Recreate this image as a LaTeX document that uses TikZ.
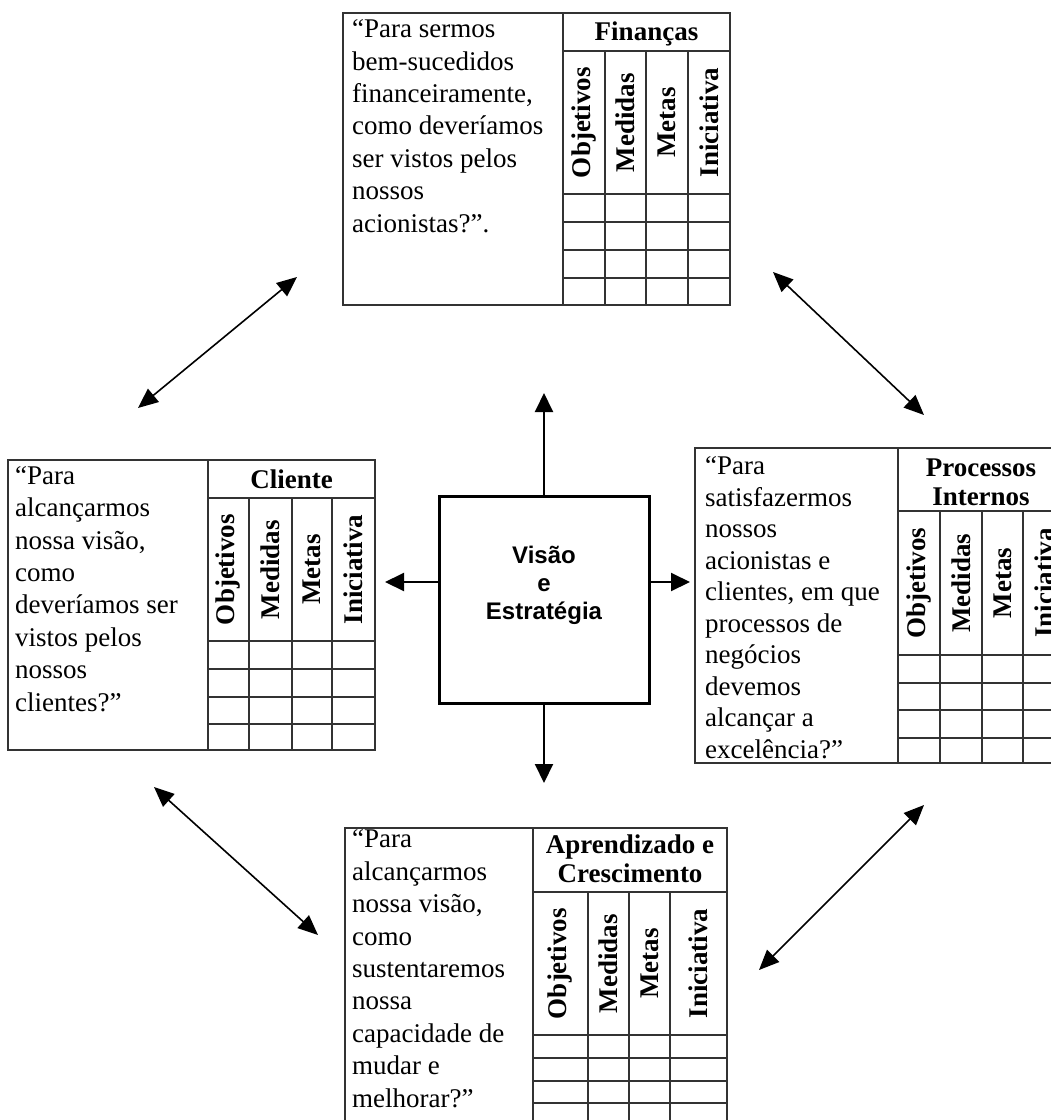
\documentclass[tikz,border=0pt]{standalone}
\usepackage{fontspec}
\setmainfont{Liberation Serif}
\newfontfamily\arialfont{Liberation Sans}
\usetikzlibrary{arrows.meta}

% multi-line nodes sit on the baseline of their last line
\tikzset{
  grid line/.style={line width=1.1pt, black!80},
  quest/.style={anchor=base west, inner sep=0pt, align=left, font=\fontsize{27}{32.4}\selectfont},
  head/.style={anchor=base, inner sep=0pt, align=center, font=\fontsize{27}{29}\selectfont\bfseries},
  collab/.style={rotate=90, inner sep=0pt, font=\fontsize{27}{29}\selectfont\bfseries},
  visbox/.style={draw, line width=3pt, minimum width=210pt, minimum height=207pt, inner sep=0pt},
  vislabel/.style={anchor=base, inner sep=0pt, align=center, font=\arialfont\bfseries\fontsize{24}{28}\selectfont},
  outarrow/.style={line width=2pt, -{Triangle[length=19pt,width=18pt]}},
  linkarrow/.style={line width=1.6pt, {Triangle[length=20pt,width=17pt]}-{Triangle[length=20pt,width=17pt]}},
}

\begin{document}
\begin{tikzpicture}[x=1pt, y=-1pt]

\useasboundingbox (0,0) rectangle (1051,1120);
\fill[white] (0,0) rectangle (1051,1120);

\begin{scope}
\clip (0,0) rectangle (1051,1120);

% Financas (top)
\draw[grid line] (343,13) rectangle (730,305);
\draw[grid line] (563,13) -- (563,305);
\draw[grid line] (563,51) -- (730,51);
\foreach \x in {605,646,688}
  \draw[grid line] (\x,51) -- (\x,305);
\foreach \y in {194,222,250,278}
  \draw[grid line] (563,\y) -- (730,\y);
\node[quest] (fintxt) at (352,232) {“Para sermos\\bem-sucedidos\\financeiramente,\\como deveríamos\\ser vistos pelos\\nossos\\acionistas?”.};
\node[head] (finhd) at (646.5,40) {Finanças};
\foreach \lab/\x [count=\i] in {Objetivos/584, Medidas/625.5, Metas/667, Iniciativa/709}
  \node[collab] (fin-\i) at (\x,122.5) {\lab};

% Cliente (left)
\draw[grid line] (8,460) rectangle (375,750);
\draw[grid line] (208,460) -- (208,750);
\draw[grid line] (208,498) -- (375,498);
\foreach \x in {249,292,332}
  \draw[grid line] (\x,498) -- (\x,750);
\foreach \y in {641,669,697,724}
  \draw[grid line] (208,\y) -- (375,\y);
\node[quest] (clitxt) at (15,711) {“Para\\alcançarmos\\nossa visão,\\como\\deveríamos ser\\vistos pelos\\nossos\\clientes?”};
\node[head] (clihd) at (291.5,488) {Cliente};
\foreach \lab/\x [count=\i] in {Objetivos/228.5, Medidas/270.5, Metas/312, Iniciativa/353.5}
  \node[collab] (cli-\i) at (\x,569.5) {\lab};

% Processos Internos (right, cut by the page edge)
\draw[grid line] (695,448) rectangle (1065,763);
\draw[grid line] (898,448) -- (898,763);
\draw[grid line] (898,511) -- (1065,511);
\foreach \x in {940,982,1023}
  \draw[grid line] (\x,511) -- (\x,763);
\foreach \y in {655,683,710,738}
  \draw[grid line] (898,\y) -- (1065,\y);
\node[quest, font=\fontsize{27}{31.5}\selectfont] (proctxt) at (705,758) {“Para\\satisfazermos\\nossos\\acionistas e\\clientes, em que\\processos de\\negócios\\devemos\\alcançar a\\excelência?”};
\node[head] (prochd) at (981,505) {Processos\\Internos};
\foreach \lab/\x [count=\i] in {Objetivos/919, Medidas/961, Metas/1002.5, Iniciativa/1044}
  \node[collab] (proc-\i) at (\x,583) {\lab};

% Aprendizado e Crescimento (bottom, cut by the page edge)
\draw[grid line] (345,828) rectangle (727,1140);
\draw[grid line] (533,828) -- (533,1140);
\draw[grid line] (533,892) -- (727,892);
\foreach \x in {588,629,670}
  \draw[grid line] (\x,892) -- (\x,1140);
\foreach \y in {1035,1058,1081,1103,1126}
  \draw[grid line] (533,\y) -- (727,\y);
\node[quest] (aprtxt) at (352,1107) {“Para\\alcançarmos\\nossa visão,\\como\\sustentaremos\\nossa\\capacidade de\\mudar e\\melhorar?”};
\node[head] (aprhd) at (630,882) {Aprendizado e\\Crescimento};
\foreach \lab/\x [count=\i] in {Objetivos/560.5, Medidas/608.5, Metas/649.5, Iniciativa/698.5}
  \node[collab] (apr-\i) at (\x,963.5) {\lab};

\end{scope}

% Visao e Estrategia
\node[visbox] (vis) at (544,599.5) {};
\node[vislabel] (vistxt) at (544,619) {Visão\\e\\Estratégia};

\coordinate (up) at (544,393);
\coordinate (down) at (544,783);
\coordinate (rgt) at (690,582);
\coordinate (lft) at (385,582);
\draw[outarrow] (vis.north) -- (up);
\draw[outarrow] (vis.south) -- (down);
\draw[outarrow] (vis.east |- rgt) -- (rgt);
\draw[outarrow] (vis.west |- lft) -- (lft);

% links between the perspectives
\coordinate (cf-cli) at (138,408);
\coordinate (cf-fin) at (297,277);
\coordinate (fp-fin) at (773,272);
\coordinate (fp-proc) at (924,415);
\coordinate (ca-cli) at (154,787);
\coordinate (ca-apr) at (318,935);
\coordinate (pa-proc) at (924,805);
\coordinate (pa-apr) at (759,970);
\draw[linkarrow] (cf-cli) -- (cf-fin);
\draw[linkarrow] (fp-fin) -- (fp-proc);
\draw[linkarrow] (ca-cli) -- (ca-apr);
\draw[linkarrow] (pa-proc) -- (pa-apr);

\end{tikzpicture}
\end{document}
